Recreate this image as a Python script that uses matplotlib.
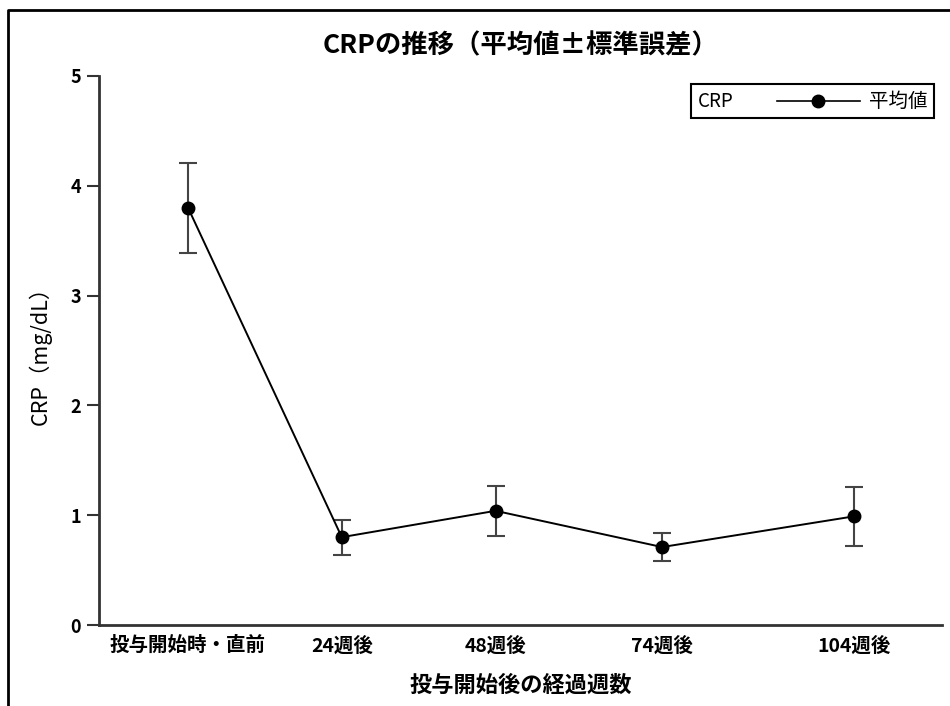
import matplotlib
matplotlib.use('Agg')
import matplotlib.pyplot as plt
from matplotlib.lines import Line2D
from matplotlib.offsetbox import AnchoredOffsetbox, HPacker, TextArea, DrawingArea

plt.rcParams['font.family'] = ['Noto Sans CJK JP', 'DejaVu Sans']

weeks = [0, 24, 48, 74, 104]
tick_labels = ['投与開始時・直前', '24週後', '48週後', '74週後', '104週後']
crp_mean = [3.80, 0.80, 1.04, 0.71, 0.99]
crp_se = [0.41, 0.16, 0.23, 0.13, 0.27]

fig = plt.figure(figsize=(9.5, 7.06), dpi=100)
ax = fig.add_axes([0.1042, 0.1147, 0.8874, 0.7777])

ax.errorbar(weeks, crp_mean, yerr=crp_se, fmt='none', ecolor='#444444',
            elinewidth=1.5, capsize=6.5, capthick=1.5, zorder=2)
ax.plot(weeks, crp_mean, color='black', lw=1.4, marker='o', ms=9,
        mfc='black', mec='black', zorder=3)

ax.set_xlim(-13.9, 117.7)
ax.set_ylim(0, 5)
ax.set_xticks(weeks)
ax.set_xticklabels(tick_labels, fontsize=14, fontweight='bold')
ax.set_yticks([0, 1, 2, 3, 4, 5])
ax.set_yticklabels(['0', '1', '2', '3', '4', '5'], fontsize=13, fontweight='bold')
ax.tick_params(axis='x', length=0, pad=8)
ax.tick_params(axis='y', length=9, width=1.5, color='#333333', pad=4)

for s in ['top', 'right']:
    ax.spines[s].set_visible(False)
for s in ['left', 'bottom']:
    ax.spines[s].set_linewidth(2)
    ax.spines[s].set_color('#333333')

ax.set_title('CRPの推移（平均値±標準誤差）', fontsize=19, fontweight='bold', pad=16)
ax.set_xlabel('投与開始後の経過週数', fontsize=16, fontweight='bold', labelpad=13)
ax.set_ylabel('CRP（mg/dL）', fontsize=15.5, labelpad=13)

# legend: "CRP  -o-  平均値" in one row (DrawingArea sizes are in points)
key = DrawingArea(84.5, 14, 0, 0)
key.add_artist(Line2D([24.7, 84.5], [7, 7], color='black', lw=1.2))
key.add_artist(Line2D([54.6], [7], marker='o', ms=9, color='black'))
row = HPacker(children=[TextArea('CRP', textprops=dict(fontsize=13.5)),
                        key,
                        TextArea('平均値', textprops=dict(fontsize=14))],
              align='center', pad=0, sep=6.5)
box = AnchoredOffsetbox(loc='upper right', child=row, pad=0.5, borderpad=0.55,
                        frameon=True)
box.patch.set_edgecolor('black')
box.patch.set_linewidth(1.5)
box.patch.set_boxstyle('square', pad=0)
ax.add_artist(box)

# outer frame of the figure (left and top edges visible)
fig.add_artist(Line2D([8 / 950, 8 / 950, 1.01], [-0.01, 1 - 10 / 706, 1 - 10 / 706],
                      transform=fig.transFigure, color='black', lw=2))

fig.savefig('out.png', dpi=100)
